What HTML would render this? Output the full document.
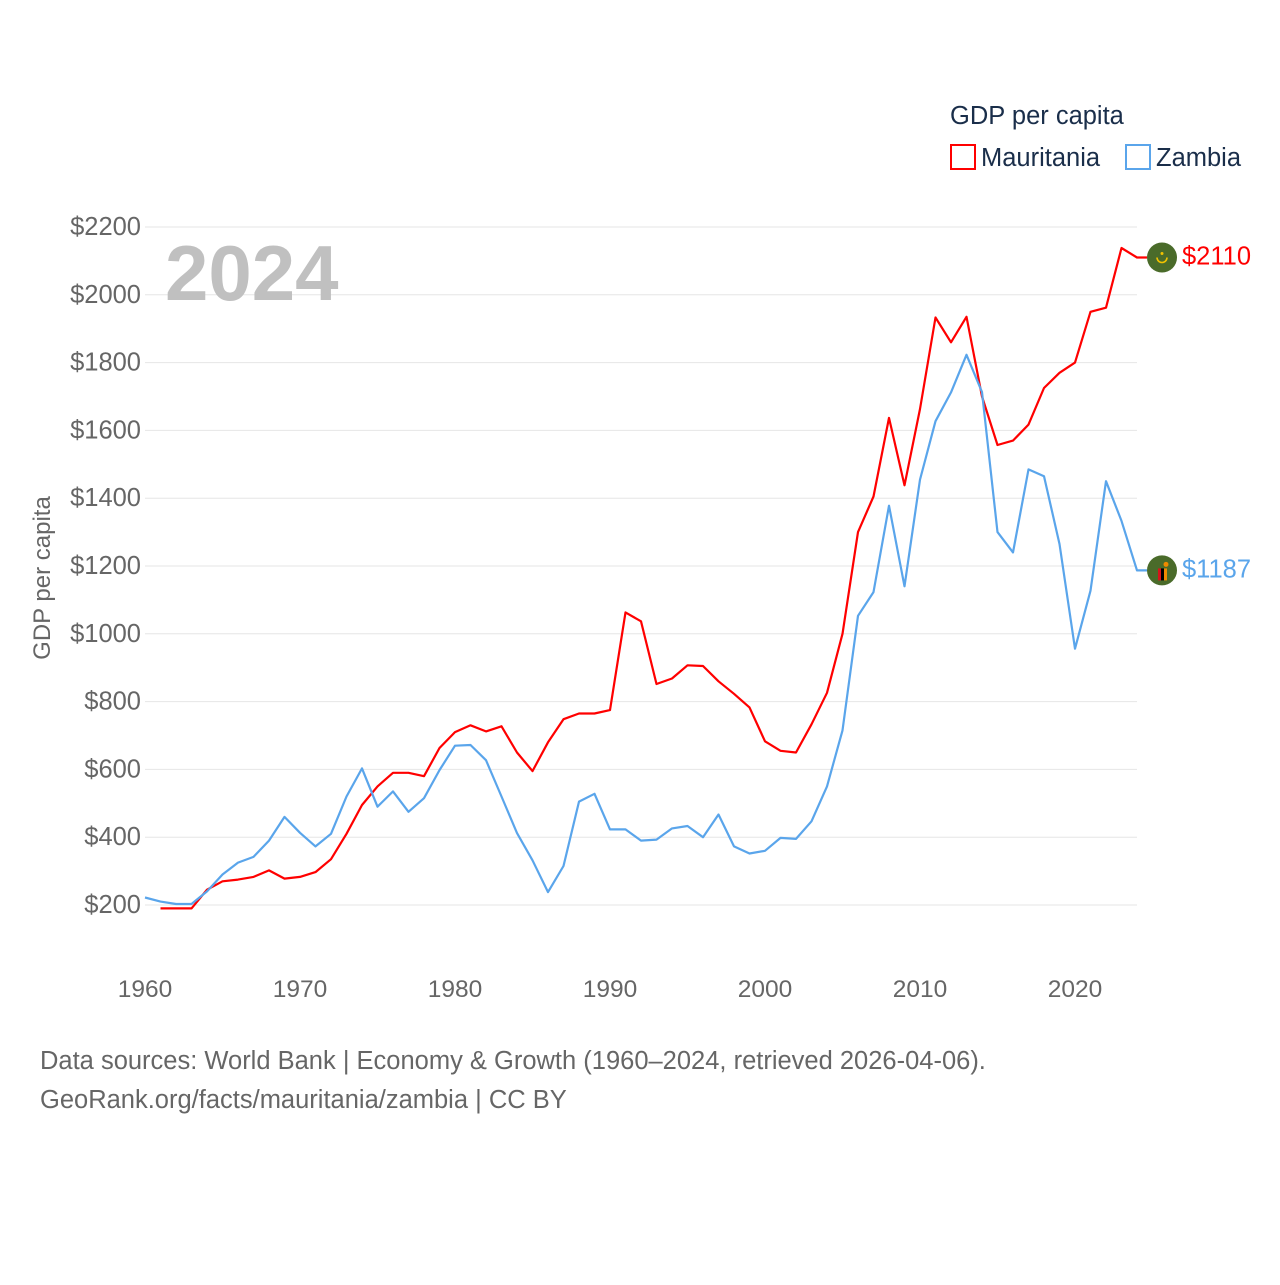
<!DOCTYPE html>
<html><head><meta charset="utf-8"><style>
body{margin:0;background:#fff;font-family:"Liberation Sans",sans-serif}
svg text{font-family:"Liberation Sans",sans-serif}
</style></head><body>
<svg id="chart" width="1280" height="1280" xmlns="http://www.w3.org/2000/svg">
<g id="grid"></g>
<g id="yticks"></g>
<g id="xticks"></g>
<text x="165" y="300" font-size="78" font-weight="bold" fill="#c0c0c0">2024</text>
<text transform="translate(50,578) rotate(-90)" text-anchor="middle" font-size="24" fill="#666">GDP per capita</text>
<g id="series"></g>
<g>
<text x="950" y="124" font-size="25.5" fill="#1a2e4a">GDP per capita</text>
<rect x="951" y="145" width="24" height="24" fill="none" stroke="#ff0000" stroke-width="2"/>
<text x="981" y="166" font-size="25.5" fill="#1a2e4a">Mauritania</text>
<rect x="1126" y="145" width="24" height="24" fill="none" stroke="#5aa5eb" stroke-width="2"/>
<text x="1156" y="166" font-size="25.5" fill="#1a2e4a">Zambia</text>
</g>
<text x="40" y="1069" font-size="25.5" fill="#666">Data sources: World Bank | Economy &amp; Growth (1960–2024, retrieved 2026-04-06).</text>
<text x="40" y="1108" font-size="25.5" fill="#666">GeoRank.org/facts/mauritania/zambia | CC BY</text>
</svg>
<script>
const yTicks=[200,400,600,800,1000,1200,1400,1600,1800,2000,2200];
const xTicks=[1960,1970,1980,1990,2000,2010,2020];
const mauritaniaStart=1961;
const mauritania=[190,190,190,245,270,275,283,302,278,283,297,335,410,495,550,590,590,580,663,710,730,712,727,650,595,680,748,765,765,775,1063,1037,852,868,907,905,860,823,783,683,655,650,733,826,1000,1300,1405,1637,1438,1663,1933,1860,1935,1700,1557,1570,1617,1725,1770,1800,1950,1962,2138,2110];
const zambiaStart=1960;
const zambia=[222,210,203,203,240,290,325,342,390,460,413,373,410,520,603,490,535,475,515,598,670,672,627,520,412,332,238,315,505,528,423,423,390,393,426,433,400,467,373,352,360,398,395,447,550,715,1053,1123,1378,1140,1455,1627,1712,1823,1713,1300,1240,1485,1465,1265,956,1127,1450,1333,1187];
const NS="http://www.w3.org/2000/svg";
const X=yr=>145+(yr-1960)*15.5;
const Y=v=>905-(v-200)*0.339;
function mk(t,a,p){const e=document.createElementNS(NS,t);for(const k in a)e.setAttribute(k,a[k]);p.appendChild(e);return e;}
const grid=document.getElementById('grid'),yt=document.getElementById('yticks'),xt=document.getElementById('xticks'),ser=document.getElementById('series');
yTicks.forEach(v=>{
 const l=mk('line',{x1:145,x2:1137,y1:Y(v),y2:Y(v),stroke:'#e6e6e6','stroke-width':1},grid);
 
 
 const t=mk('text',{x:141,y:Y(v)+8,'text-anchor':'end','font-size':25.5,fill:'#666'},yt);
 t.textContent='$'+v;
 
 
});
xTicks.forEach(v=>{
 const t=mk('text',{x:X(v),y:997,'text-anchor':'middle','font-size':24.5,fill:'#666'},xt);
 t.textContent=v;
 
 
});
function draw(name,arr,start,color,flag){
 const pts=arr.map((v,i)=>X(start+i).toFixed(1)+','+Y(v).toFixed(1));
 const last=arr[arr.length-1];
 pts.push((X(2024)+10).toFixed(1)+','+Y(last).toFixed(1));
 const p=mk('polyline',{points:pts.join(' '),fill:'none',stroke:color,'stroke-width':2.2,'stroke-linejoin':'round'},ser);
 
 
 const cx=X(2024)+25,cy=Y(last);
 const c=mk('circle',{cx:cx,cy:cy,r:15,fill:'#4a6b2a'},ser);
 
 
 if(flag==='mr'){
  mk('path',{d:`M${cx-5},${cy} a5,5 0 0 0 10,0`,fill:'none',stroke:'#f2c200','stroke-width':1.6},ser);
  mk('circle',{cx:cx,cy:cy-4,r:1.5,fill:'#f2c200'},ser);
 } else {
  mk('rect',{x:cx-4,y:cy-2,width:3,height:12,fill:'#d7141a'},ser);
  mk('rect',{x:cx-1,y:cy-2,width:3,height:12,fill:'#000'},ser);
  mk('rect',{x:cx+2,y:cy-2,width:3,height:12,fill:'#f08a00'},ser);
  mk('circle',{cx:cx+4,cy:cy-6,r:2.5,fill:'#f08a00'},ser);
 }
 const t=mk('text',{x:cx+20,y:cy+7,'font-size':25.5,fill:color},ser);
 t.textContent='$'+last;
 
 
}
draw('mauritania',mauritania,mauritaniaStart,'#ff0000','mr');
draw('zambia',zambia,zambiaStart,'#5aa5eb','zm');
</script>
</body></html>
